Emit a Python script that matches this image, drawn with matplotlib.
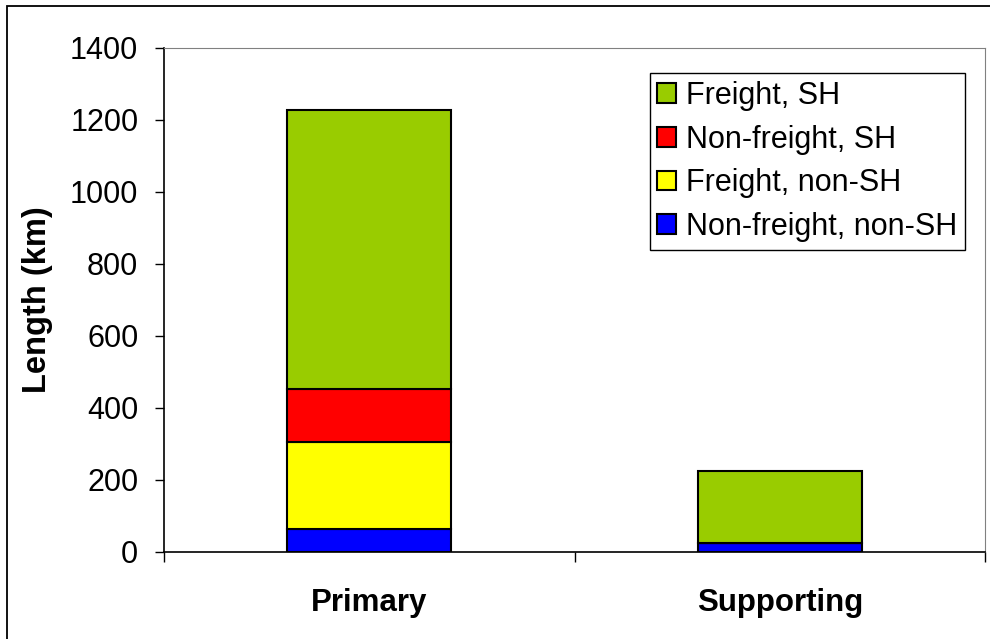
import numpy as np
import matplotlib
matplotlib.use("Agg")
from matplotlib import pyplot as plt
from matplotlib.patches import Rectangle

# data (km)
categories = ["Primary", "Supporting"]
series = ["Non-freight, non-SH", "Freight, non-SH", "Non-freight, SH", "Freight, SH"]
nonfreight_nonsh = [65, 25]
freight_nonsh = [241, 0]
nonfreight_sh = [146, 0]
freight_sh = [776, 199]
colors = ["#0000FF", "#FFFF00", "#FF0000", "#99CC00"]
yticks = [0, 200, 400, 600, 800, 1000, 1200, 1400]

plt.rcParams['font.family'] = ['Liberation Sans', 'DejaVu Sans']

fig = plt.figure(figsize=(9.9, 6.39), dpi=100)
ax = fig.add_axes([0.1657, 0.1362, 0.8293, 0.7887])

# outer chart border (right/bottom lie outside the picture)
fig.patches.append(Rectangle((7/990, -0.01), 1.2, 1 - 6/639 + 0.01,
                             transform=fig.transFigure, fill=False,
                             edgecolor="black", linewidth=1.3))

x = np.arange(len(categories))
bottom = np.zeros(len(categories))
values = [nonfreight_nonsh, freight_nonsh, nonfreight_sh, freight_sh]
for name, vals, c in zip(series, values, colors):
    ax.bar(x, vals, 0.4, bottom=bottom, color=c, edgecolor="black",
           linewidth=1.5, label=name, zorder=3)
    bottom += np.array(vals)

ax.set_xlim(-0.5, 1.5)
ax.set_ylim(0, 1400)
ax.set_yticks(yticks)
ax.tick_params(axis='y', labelsize=22, length=6.5, width=1, pad=12, direction='out')
ax.set_xticks(x)
ax.set_xticklabels(categories, fontsize=22.5, fontweight='bold')
ax.tick_params(axis='x', length=0, pad=26)
ax.set_xticks([-0.5, 0.5, 1.5], minor=True)
ax.tick_params(axis='x', which='minor', length=7, width=1, direction='out')
ax.set_ylabel("Length (km)", fontsize=23.5, fontweight='bold', labelpad=12)

for s in ['top', 'right']:
    ax.spines[s].set_color('#808080')
for s in ['left', 'bottom']:
    ax.spines[s].set_color('black')
    ax.spines[s].set_linewidth(1.2)

h, l = ax.get_legend_handles_labels()
leg = ax.legend(h[::-1], l[::-1], loc='upper right', bbox_to_anchor=(0.9757, 0.950),
                borderaxespad=0, fontsize=22, fancybox=False, framealpha=1,
                edgecolor='black', handlelength=0.62, handleheight=0.62,
                handletextpad=0.33, labelspacing=0.45, borderpad=0.25)
leg.get_frame().set_linewidth(1)

fig.savefig("out.png", dpi=100)
